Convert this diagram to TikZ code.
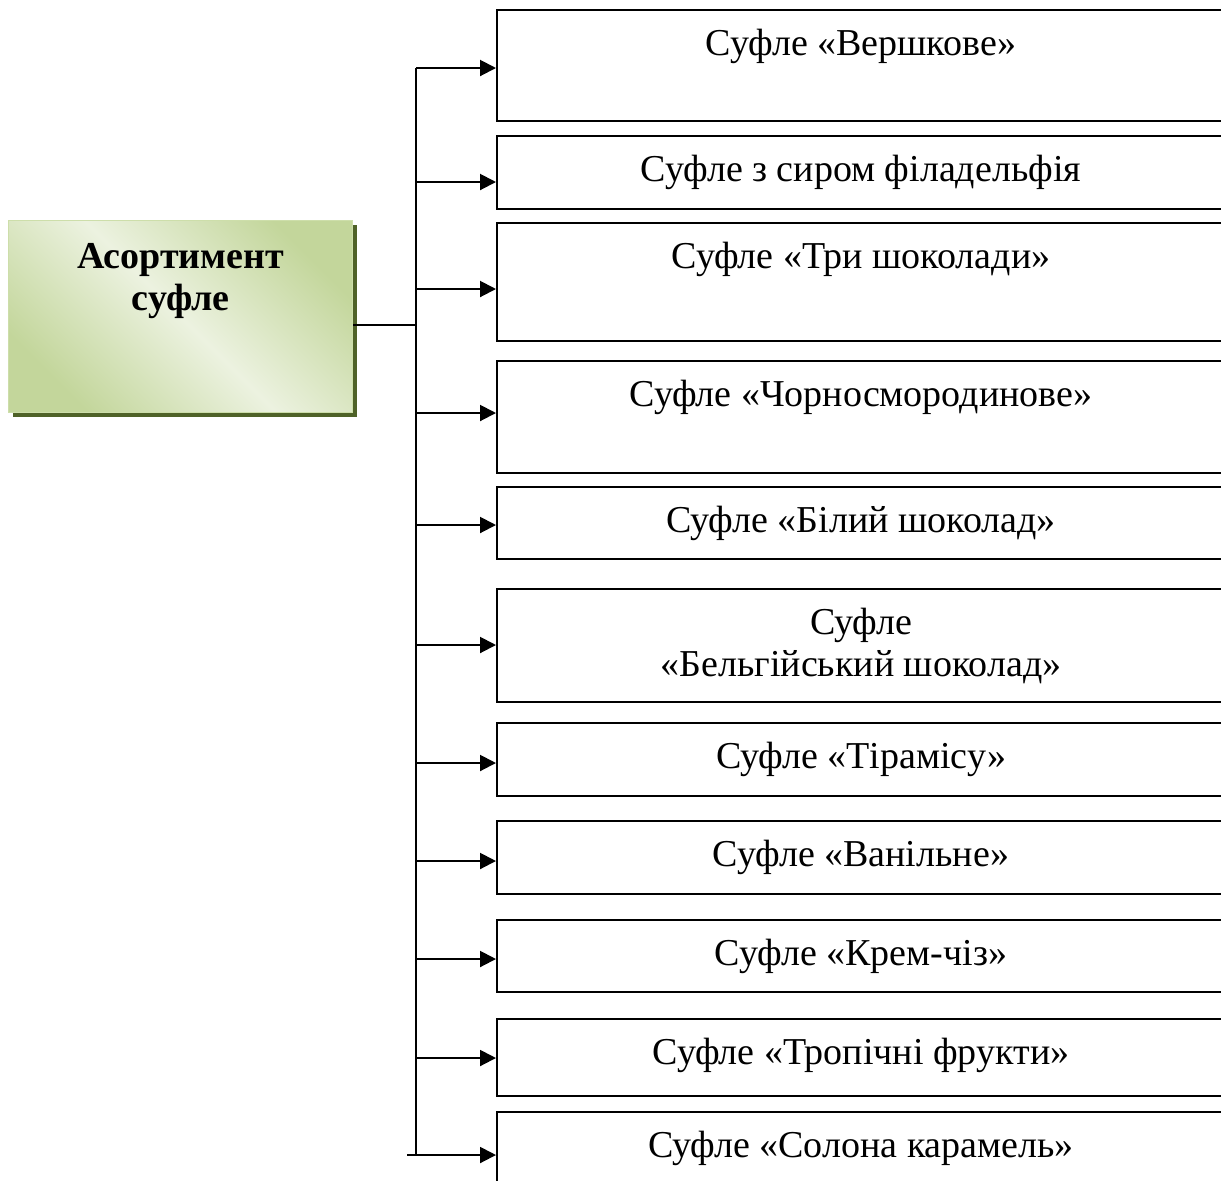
\documentclass[tikz,border=0pt]{standalone}
\usepackage{fontspec}
\setmainfont{Liberation Serif}
\usetikzlibrary{arrows.meta,shadows,calc}
\definecolor{rootdark}{RGB}{195,214,155}
\definecolor{rootlight}{RGB}{236,242,224}
\definecolor{rootedge}{RGB}{205,222,170}
\definecolor{rootshadow}{RGB}{79,98,40}
\tikzset{
  itembox/.style={draw,line width=1pt,minimum width=364pt,anchor=north west,inner sep=0pt},
  itemtext/.style={anchor=base,align=center,inner sep=0pt,font=\fontsize{19}{21}\selectfont},
  rootbox/.style={draw=rootedge,line width=0.6pt,left color=rootdark,right color=rootdark,middle color=rootlight,shading angle=135,
    minimum width=172pt,minimum height=96pt,anchor=north west,inner sep=0pt,
    drop shadow={shadow xshift=2pt,shadow yshift=-2pt,fill=rootshadow,opacity=1}},
  arr/.style={line width=1pt,-{Triangle[length=8pt,width=8pt]}}
}
\begin{document}
\begin{tikzpicture}[x=0.5pt,y=-0.5pt]
\useasboundingbox(0,0) rectangle (1221,1180);
\clip(0,0) rectangle (1221,1180);
\pgfmathsetmacro{\trunkx}{416}
% root box
\node[rootbox](root) at (8,220) {};
\node[itemtext,font=\fontsize{19}{21}\selectfont\bfseries](roottxt) at ($(root.north)+(0,90)$) {Асортимент\\суфле};
\coordinate(c0) at (\trunkx,325);
\draw[line width=1pt](root.east |- c0)--(c0);
% items (base of last text line is \dy below the box top)
\foreach \n/\t/\b/\ay/\dy/\txt in {1/9/120/68/46/{Суфле «Вершкове»},2/135/208/182/46/{Суфле з сиром філадельфія},3/222/340/289/46/{Суфле «Три шоколади»},4/360/472/413/46/{Суфле «Чорносмородинове»},5/486/558/525/46/{Суфле «Білий шоколад»},6/588/701/645/88/{Суфле\\«Бельгійський шоколад»},7/722/795/763/46/{Суфле «Тірамісу»},8/820/893/861/46/{Суфле «Ванільне»},9/919/991/959/46/{Суфле «Крем-чіз»},10/1018/1095/1058/46/{Суфле «Тропічні фрукти»},11/1111/1200/1155/46/{Суфле «Солона карамель»}}{
  \pgfmathsetmacro{\h}{(\b-\t)/2}
  \node[itembox,minimum height=\h pt](b\n) at (496,\t) {};
  \node[itemtext](t\n) at ($(b\n.north)+(0,\dy)$) {\txt};
  \coordinate(j\n) at (\trunkx,\ay);
}
\foreach \n in {1,...,10}{\draw[arr](j\n)--(j\n -| b\n.west);}
\draw[arr]($(j11)+(-9,0)$)--(j11 -| b11.west);
\draw[line width=1pt](j1)--(j11);
\end{tikzpicture}
\end{document}
